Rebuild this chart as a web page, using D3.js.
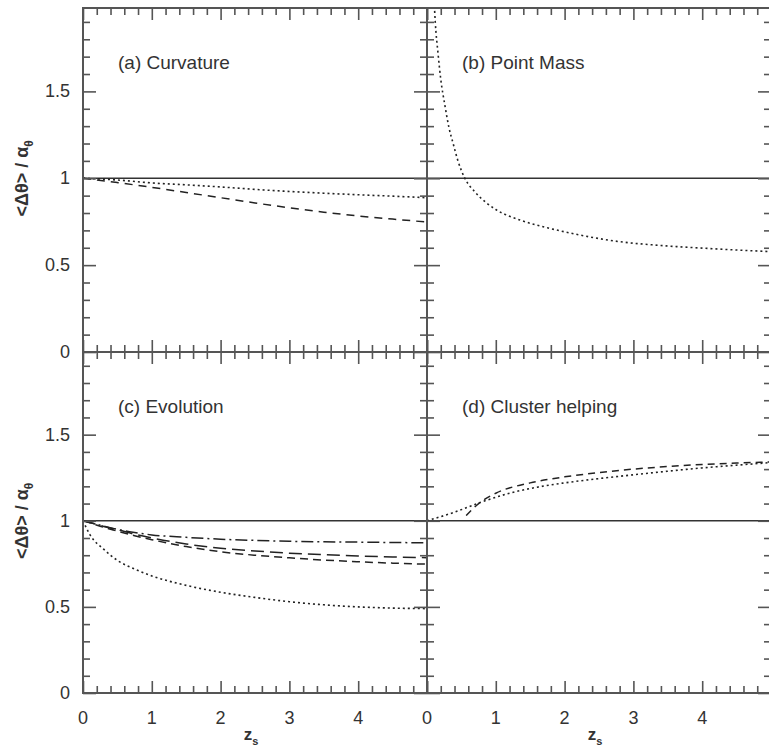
<!DOCTYPE html>
<html>
<head>
<meta charset="utf-8">
<script src="https://cdn.jsdelivr.net/npm/d3@7"></script>
<style>
  html, body { margin: 0; padding: 0; background: #fff; }
  svg { display: block; }
  text { font-family: "Liberation Sans", Arial, Helvetica, sans-serif; fill: #333; }
</style>
</head>
<body>
<svg id="chart" width="769" height="752"></svg>
<script>
// ---------------- data ----------------
const xTicks = [0, 1, 2, 3, 4];
const yTicks = [0, 0.5, 1, 1.5];
const yTickLabels = ["0", "0.5", "1", "1.5"];
const panelLabels = ["(a) Curvature", "(b) Point Mass", "(c) Evolution", "(d) Cluster helping"];

// (a) Curvature
const curvZ      = [0, 0.5, 1, 1.5, 2, 2.5, 3, 3.5, 4, 4.5, 5];
const curvDotted = [1, 0.99, 0.973, 0.962, 0.95, 0.936, 0.924, 0.914, 0.905, 0.897, 0.888];
const curvDashed = [1, 0.975, 0.948, 0.918, 0.888, 0.858, 0.83, 0.805, 0.783, 0.765, 0.748];

// (b) Point Mass
const pmZ      = [0.1, 0.12, 0.16, 0.2, 0.26, 0.32, 0.38, 0.45, 0.55, 0.7, 0.86, 1.0, 1.35, 1.75, 2.2, 2.8, 3.4, 4.0, 4.5, 5.0];
const pmDotted = [2.05, 1.9, 1.72, 1.57, 1.42, 1.29, 1.2, 1.1, 1.0, 0.92, 0.86, 0.82, 0.76, 0.715, 0.675, 0.635, 0.613, 0.598, 0.587, 0.578];

// (c) Evolution
const evoZ       = [0, 0.1, 0.3, 0.5, 0.75, 1, 1.5, 2, 2.5, 3, 3.5, 4, 4.5, 5];
const evoDotted  = [1, 0.92, 0.835, 0.77, 0.72, 0.68, 0.625, 0.585, 0.555, 0.53, 0.512, 0.5, 0.493, 0.49];
const evoDashDot = [1, 0.99, 0.97, 0.95, 0.932, 0.918, 0.904, 0.893, 0.886, 0.881, 0.878, 0.876, 0.874, 0.872];
const evoLongDash  = [1, 0.99, 0.967, 0.948, 0.922, 0.9, 0.865, 0.84, 0.825, 0.812, 0.803, 0.796, 0.79, 0.786];
const evoShortDash = [1, 0.988, 0.962, 0.94, 0.913, 0.89, 0.85, 0.82, 0.8, 0.785, 0.772, 0.762, 0.754, 0.748];

// (d) Cluster helping
const clDotZ   = [0, 0.4, 0.8, 1.2, 1.6, 2, 2.5, 3, 3.5, 4, 4.5, 5];
const clDotted = [1.0, 1.05, 1.11, 1.16, 1.195, 1.22, 1.245, 1.267, 1.288, 1.307, 1.323, 1.338];
const clDashZ  = [0.57, 0.75, 1, 1.5, 2, 2.5, 3, 3.5, 4, 4.5, 5];
const clDashed = [1.03, 1.1, 1.16, 1.22, 1.255, 1.28, 1.3, 1.315, 1.327, 1.335, 1.342];

// ---------------- layout ----------------
const svg = d3.select("#chart");
const X0 = 83, XMID = 427, XW = 344;
const YTOP = 8, YMID = 352, YBOT = 693;
const xDomain = [0, 5];
const yDomain = [0, 1.98];

const zip = (zs, vs) => zs.map((z, i) => [z, vs[i]]);

const styles = {
  dotted:    { dash: "2,3",          w: 1.6 },
  dashed:    { dash: "8,6",          w: 1.5 },
  longdash:  { dash: "13,6",         w: 1.5 },
  shortdash: { dash: "8,5",          w: 1.5 },
  dashdot:   { dash: "12,4,2,4",     w: 1.5 },
  dashedD:   { dash: "7,5",          w: 1.5 }
};

const panels = [
  { x: X0,   y: YTOP, h: YMID - YTOP, label: panelLabels[0], showXLabels: false, showYLabels: true,
    series: [ { pts: zip(curvZ, curvDotted), s: "dotted" }, { pts: zip(curvZ, curvDashed), s: "dashed" } ] },
  { x: XMID, y: YTOP, h: YMID - YTOP, label: panelLabels[1], showXLabels: false, showYLabels: false,
    series: [ { pts: zip(pmZ, pmDotted), s: "dotted" } ] },
  { x: X0,   y: YMID, h: YBOT - YMID, label: panelLabels[2], showXLabels: true, showYLabels: true,
    series: [ { pts: zip(evoZ, evoDotted), s: "dotted" }, { pts: zip(evoZ, evoDashDot), s: "dashdot" },
              { pts: zip(evoZ, evoLongDash), s: "longdash" }, { pts: zip(evoZ, evoShortDash), s: "shortdash" } ] },
  { x: XMID, y: YMID, h: YBOT - YMID, label: panelLabels[3], showXLabels: true, showYLabels: false,
    series: [ { pts: zip(clDotZ, clDotted), s: "dotted" }, { pts: zip(clDashZ, clDashed), s: "dashedD" } ] }
];

const axisColor = "#555";

panels.forEach((p, i) => {
  const x = d3.scaleLinear().domain(xDomain).range([p.x, p.x + XW]);
  const y = d3.scaleLinear().domain(yDomain).range([p.y + p.h, p.y]);
  const g = svg.append("g");

  const clipId = "clip" + i;
  svg.append("clipPath").attr("id", clipId)
    .append("rect").attr("x", p.x).attr("y", p.y).attr("width", XW).attr("height", p.h);

  // reference line at 1
  g.append("line")
    .attr("x1", x(0)).attr("x2", x(5)).attr("y1", y(1)).attr("y2", y(1))
    .attr("stroke", "#333").attr("stroke-width", 1.4);

  // curves
  const line = d3.line().x(d => x(d[0])).y(d => y(d[1])).curve(d3.curveMonotoneX);
  p.series.forEach(sr => {
    const st = styles[sr.s];
    g.append("path").attr("d", line(sr.pts))
      .attr("clip-path", `url(#${clipId})`)
      .attr("fill", "none").attr("stroke", "#222")
      .attr("stroke-width", st.w).attr("stroke-dasharray", st.dash);
  });

  // axes with inward ticks (major + minor)
  const minorX = d3.range(0, 5.001, 0.2).filter(v => Math.abs(v - Math.round(v)) > 1e-6);
  const minorY = d3.range(0, 1.98, 0.1).filter(v => Math.abs(v * 2 - Math.round(v * 2)) > 1e-6);
  const majorX = [0, 1, 2, 3, 4, 5];
  const majorY = yTicks;

  const mk = (axisFn, scale, vals, len, tr) => {
    const a = axisFn(scale).tickValues(vals).tickSize(len).tickFormat("");
    const ag = svg.append("g").attr("transform", tr).call(a);
    ag.select(".domain").remove();
    ag.selectAll(".tick line").attr("stroke", axisColor).attr("stroke-width", 1.6);
  };
  // bottom ticks (pointing up)
  mk(d3.axisTop, x, majorX, 12, `translate(0,${p.y + p.h})`);
  mk(d3.axisTop, x, minorX, 7, `translate(0,${p.y + p.h})`);
  // top ticks (pointing down)
  mk(d3.axisBottom, x, majorX, 12, `translate(0,${p.y})`);
  mk(d3.axisBottom, x, minorX, 7, `translate(0,${p.y})`);
  // left ticks (pointing right)
  mk(d3.axisRight, y, majorY, 13, `translate(${p.x},0)`);
  mk(d3.axisRight, y, minorY, 7, `translate(${p.x},0)`);
  // right ticks (pointing left)
  mk(d3.axisLeft, y, majorY, 13, `translate(${p.x + XW},0)`);
  mk(d3.axisLeft, y, minorY, 7, `translate(${p.x + XW},0)`);

  // frame
  svg.append("rect").attr("x", p.x).attr("y", p.y).attr("width", XW).attr("height", p.h)
    .attr("fill", "none").attr("stroke", axisColor).attr("stroke-width", 2);

  // panel label
  svg.append("text").attr("x", p.x + 35).attr("y", p.y + 61)
    .attr("font-size", 19).text(p.label);

  // tick labels
  if (p.showXLabels) {
    svg.append("g").selectAll("text").data(xTicks).join("text")
      .attr("x", d => x(d)).attr("y", 724).attr("text-anchor", "middle")
      .attr("font-size", 18).text(d => d);
    const xl = svg.append("text").attr("x", p.x + XW / 2 - 4).attr("y", 740)
      .attr("text-anchor", "middle").attr("font-size", 17).attr("font-weight", "bold");
    xl.append("tspan").text("z");
    xl.append("tspan").attr("dy", 5).attr("font-size", 11).text("s");
  }
  if (p.showYLabels) {
    svg.append("g").selectAll("text").data(yTicks).join("text")
      .attr("x", 70).attr("y", d => y(d) + 6).attr("text-anchor", "end")
      .attr("font-size", 18).text((d, k) => yTickLabels[k]);
    const yl = svg.append("text")
      .attr("transform", `translate(28,${y(1)}) rotate(-90)`)
      .attr("text-anchor", "middle").attr("font-size", 18).attr("font-weight", "bold");
    yl.append("tspan").text("<Δθ> / α");
    yl.append("tspan").attr("dy", 5).attr("font-size", 12).text("θ");
  }
});
</script>
</body>
</html>
